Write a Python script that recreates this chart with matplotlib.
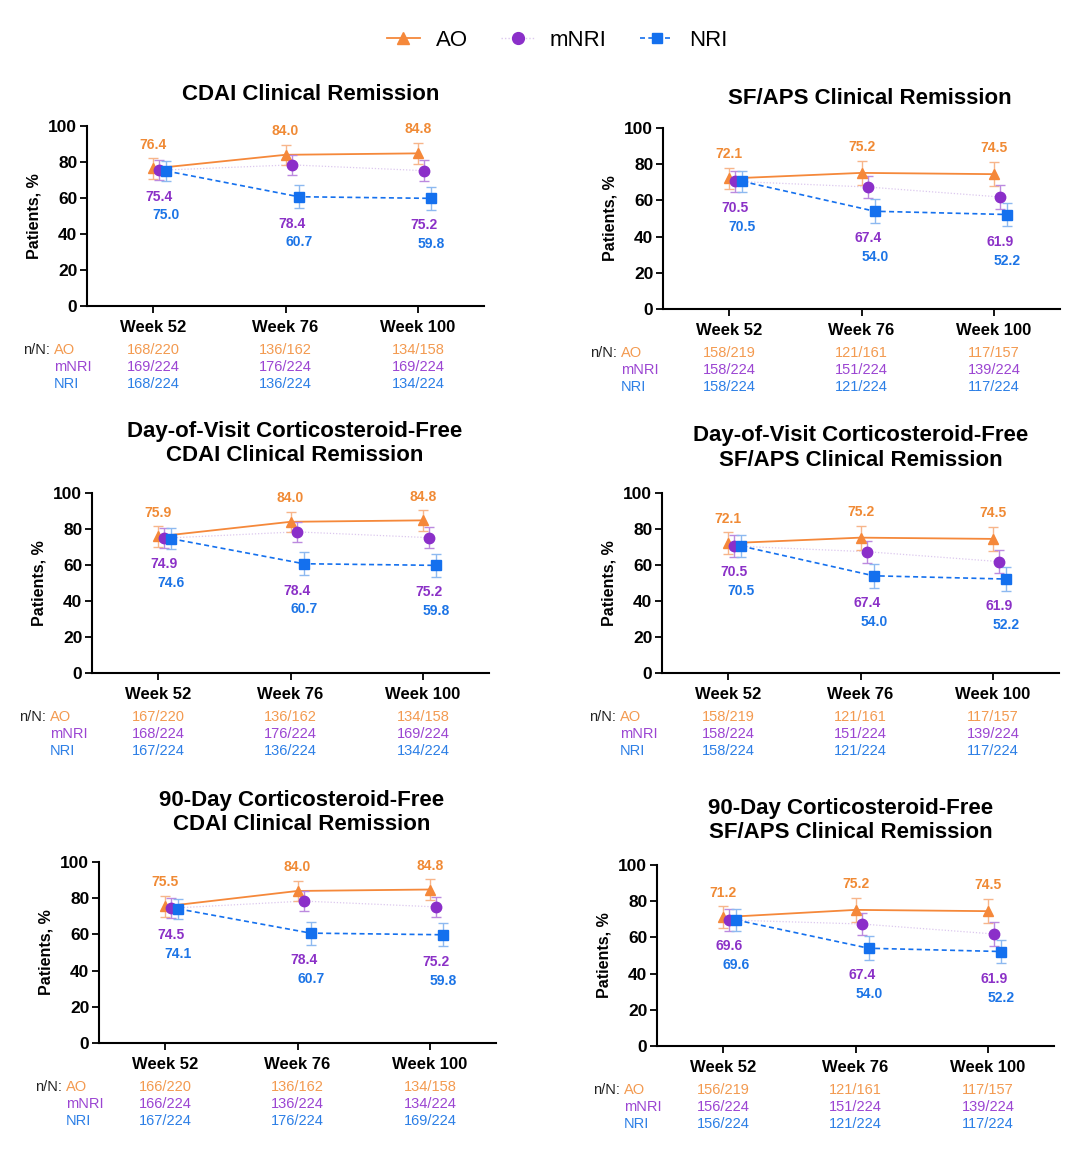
import matplotlib
matplotlib.use("Agg")
import matplotlib.pyplot as plt
from matplotlib.lines import Line2D

plt.rcParams['font.family'] = ['Liberation Sans', 'DejaVu Sans']

# ---- data ----
weeks = ["Week 52", "Week 76", "Week 100"]
series = ["AO", "mNRI", "NRI"]

titles = [
    "CDAI Clinical Remission",
    "SF/APS Clinical Remission",
    "Day-of-Visit Corticosteroid-Free\nCDAI Clinical Remission",
    "Day-of-Visit Corticosteroid-Free\nSF/APS Clinical Remission",
    "90-Day Corticosteroid-Free\nCDAI Clinical Remission",
    "90-Day Corticosteroid-Free\nSF/APS Clinical Remission",
]

ao_vals = [[76.4, 84.0, 84.8], [72.1, 75.2, 74.5], [75.9, 84.0, 84.8],
           [72.1, 75.2, 74.5], [75.5, 84.0, 84.8], [71.2, 75.2, 74.5]]
mnri_vals = [[75.4, 78.4, 75.2], [70.5, 67.4, 61.9], [74.9, 78.4, 75.2],
             [70.5, 67.4, 61.9], [74.5, 78.4, 75.2], [69.6, 67.4, 61.9]]
nri_vals = [[75.0, 60.7, 59.8], [70.5, 54.0, 52.2], [74.6, 60.7, 59.8],
            [70.5, 54.0, 52.2], [74.1, 60.7, 59.8], [69.6, 54.0, 52.2]]

# error bar half widths
ao_err = [[5.7, 5.7, 5.9], [6.0, 6.6, 6.8], [5.7, 5.7, 5.7],
          [6.0, 6.6, 6.8], [5.7, 5.7, 5.7], [6.0, 6.6, 6.8]]
mnri_err = [[5.6, 5.4, 5.7], [6.0, 6.1, 6.4], [5.7, 5.4, 5.7],
            [6.0, 6.1, 6.4], [5.7, 5.4, 5.7], [6.0, 6.1, 6.4]]
nri_err = [[5.7, 6.4, 6.4], [6.0, 6.5, 6.5], [5.7, 6.4, 6.4],
           [6.0, 6.5, 6.5], [5.7, 6.4, 6.4], [6.0, 6.5, 6.5]]

ao_nN = [["168/220", "136/162", "134/158"], ["158/219", "121/161", "117/157"],
         ["167/220", "136/162", "134/158"], ["158/219", "121/161", "117/157"],
         ["166/220", "136/162", "134/158"], ["156/219", "121/161", "117/157"]]
mnri_nN = [["169/224", "176/224", "169/224"], ["158/224", "151/224", "139/224"],
           ["168/224", "176/224", "169/224"], ["158/224", "151/224", "139/224"],
           ["166/224", "136/224", "134/224"], ["156/224", "151/224", "139/224"]]
nri_nN = [["168/224", "136/224", "134/224"], ["158/224", "121/224", "117/224"],
          ["167/224", "136/224", "134/224"], ["158/224", "121/224", "117/224"],
          ["167/224", "176/224", "169/224"], ["156/224", "121/224", "117/224"]]

# ---- styles / layout ----
W, H = 1080, 1162
AXW = 397
col_mark = {"AO": "#F5883A", "mNRI": "#8B2FC9", "NRI": "#1470EE"}
col_err = {"AO": "#F7B58A", "mNRI": "#BC8ADF", "NRI": "#8DB9F0"}
col_txt = {"AO": "#F08A35", "mNRI": "#8B31C7", "NRI": "#1C74E6"}
col_tab = {"AO": "#F39A50", "mNRI": "#9B45D2", "NRI": "#2C7FE6"}
markers = {"AO": "^", "mNRI": "o", "NRI": "s"}
msizes = {"AO": 7, "mNRI": 7.5, "NRI": 6.5}
offsets = {"AO": 0.0, "mNRI": 0.047, "NRI": 0.1}

# axes: left px, top px, bottom px
panel_px = [(87, 126, 306), (663, 128, 309), (92, 493, 673),
            (662, 493, 673), (99, 862, 1043), (657, 865, 1046)]
title_px = [(311, 94), (870, 99), (295, 443.5), (861, 448), (302, 812.5), (851, 820.5)]
rowlab_dx = [-33, -42, -42, -42, -33, -33]

fig = plt.figure(figsize=(W / 100, H / 100), dpi=100)

for p in range(6):
    L, T, B = panel_px[p]
    ax = fig.add_axes([L / W, 1 - B / H, AXW / W, (B - T) / H])
    x = list(range(len(weeks)))
    vals = {"AO": ao_vals[p], "mNRI": mnri_vals[p], "NRI": nri_vals[p]}
    errs = {"AO": ao_err[p], "mNRI": mnri_err[p], "NRI": nri_err[p]}

    # lines
    ax.plot([xi + offsets["AO"] for xi in x], vals["AO"], color=col_mark["AO"], lw=1.3, zorder=2)
    ax.plot([xi + offsets["mNRI"] for xi in x], vals["mNRI"], color="#DCC8EE", lw=0.9,
            ls=(0, (1, 1.5)), zorder=2)
    ax.plot([xi + offsets["NRI"] for xi in x], vals["NRI"], color=col_mark["NRI"], lw=1.2,
            ls=(0, (3, 2)), zorder=2)

    for k, s in enumerate(series):
        xs = [xi + offsets[s] for xi in x]
        ax.errorbar(xs, vals[s], yerr=errs[s], fmt="none", ecolor=col_err[s],
                    elinewidth=1.0, capsize=3.5, capthick=1.0, zorder=3 + k)
        ax.plot(xs, vals[s], ls="none", marker=markers[s], ms=msizes[s],
                color=col_mark[s], mec=col_mark[s], zorder=6 + k)

    # value labels
    for i in x:
        ax.text(i + offsets["AO"], vals["AO"][i] + errs["AO"][i] + 7.5, f"{vals['AO'][i]:.1f}",
                color=col_txt["AO"], fontsize=10, fontweight="bold", ha="center", va="center")
        low = min(vals["mNRI"][i] - errs["mNRI"][i], vals["NRI"][i] - errs["NRI"][i])
        ax.text(i + offsets["mNRI"], low - 8.5, f"{vals['mNRI'][i]:.1f}",
                color=col_txt["mNRI"], fontsize=10, fontweight="bold", ha="center", va="center")
        ax.text(i + offsets["NRI"], low - 19, f"{vals['NRI'][i]:.1f}",
                color=col_txt["NRI"], fontsize=10, fontweight="bold", ha="center", va="center")

    ax.set_xlim(-0.5, 2.5)
    ax.set_ylim(0, 100)
    ax.set_xticks(x)
    ax.set_xticklabels(weeks, fontsize=12, fontweight="bold")
    ax.set_yticks([0, 20, 40, 60, 80, 100])
    ax.set_yticklabels(["0", "20", "40", "60", "80", "100"], fontsize=12.5, fontweight="bold")
    ax.tick_params(axis="both", direction="out", length=5, width=1.3, colors="black")
    ax.tick_params(axis="x", pad=5)
    ax.tick_params(axis="y", pad=2)
    for side in ["top", "right"]:
        ax.spines[side].set_visible(False)
    for side in ["left", "bottom"]:
        ax.spines[side].set_linewidth(1.5)
    ax.spines["left"].set_bounds(0, 100)
    ax.set_ylabel("Patients, %", fontsize=11.5, fontweight="bold")
    ax.yaxis.set_label_coords(-53 / AXW, 0.5)
    ax.yaxis.label.set_va("center")

    # n/N table under the axis
    hpx = B - T
    nN = {"AO": ao_nN[p], "mNRI": mnri_nN[p], "NRI": nri_nN[p]}
    trans = ax.get_xaxis_transform()
    for r, s in enumerate(series):
        yf = -(44 + 17 * r) / hpx
        ax.text((rowlab_dx[p]) / AXW, yf, s, transform=ax.transAxes, color=col_tab[s],
                fontsize=10.5, ha="left", va="center")
        for i in x:
            ax.text(i, yf, nN[s][i], transform=trans, color=col_tab[s],
                    fontsize=10.5, ha="center", va="center")
    ax.text((rowlab_dx[p] - 4) / AXW, -44 / hpx, "n/N:", transform=ax.transAxes,
            color="#222222", fontsize=10.5, ha="right", va="center")

    # title
    tx, ty = title_px[p]
    fig.text(tx / W, 1 - ty / H, titles[p], fontsize=16, fontweight="bold",
             ha="center", va="center", linespacing=1.22)

# legend
handles = [
    Line2D([], [], color=col_mark["AO"], lw=1.3, marker="^", ms=8),
    Line2D([], [], color="#DCC8EE", lw=1.0, ls=(0, (1, 1.5)), marker="o", ms=8.5,
           mfc=col_mark["mNRI"], mec=col_mark["mNRI"]),
    Line2D([], [], color=col_mark["NRI"], lw=1.2, ls=(0, (3, 2)), marker="s", ms=7.5),
]
fig.legend(handles, series, loc="center", bbox_to_anchor=(557 / W, 1 - 40 / H), ncol=3,
           frameon=False, fontsize=16, handlelength=1.5, handletextpad=0.7, columnspacing=1.5)

fig.savefig("out.png", dpi=100)
